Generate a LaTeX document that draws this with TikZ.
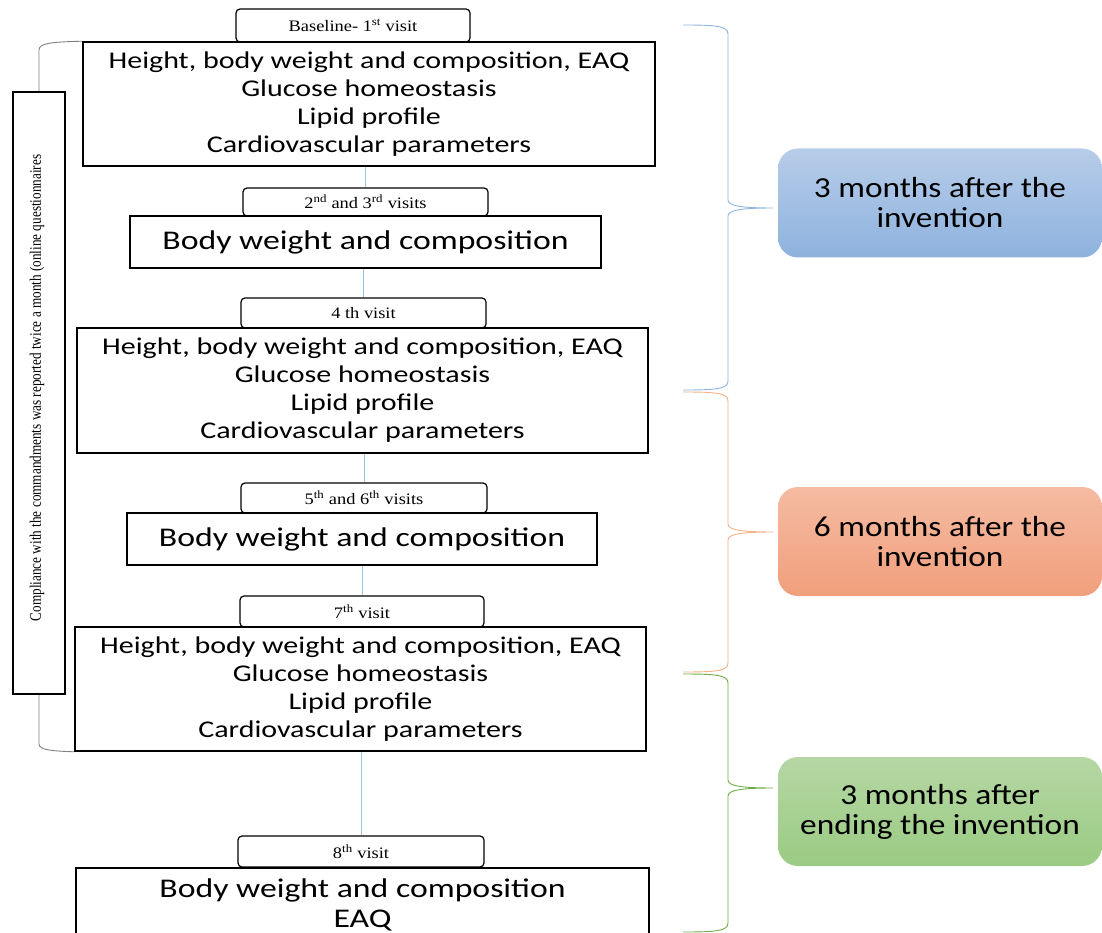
\documentclass[tikz,border=0pt]{standalone}
\usepackage{fontspec}
\setmainfont{Liberation Serif}
\newfontfamily\bodyfont{Carlito}[FakeStretch=1.25]
\newfontfamily\tagfont{Carlito}[FakeStretch=1.15]
\newfontfamily\labfont{Liberation Serif}[FakeStretch=1.15]
\newfontfamily\vfont{Liberation Serif}[FakeStretch=0.825]
\usetikzlibrary{calc}
\definecolor{linkblue}{HTML}{9DC3E6}
\definecolor{braceblue}{HTML}{8DB4E2}
\definecolor{braceorange}{HTML}{F4B183}
\definecolor{bracegreen}{HTML}{70AD47}
\definecolor{bluetop}{HTML}{B7CDE9}
\definecolor{bluebot}{HTML}{8EB2DE}
\definecolor{orangetop}{HTML}{F5BBA2}
\definecolor{orangebot}{HTML}{F19F7C}
\definecolor{greentop}{HTML}{B6D7A4}
\definecolor{greenbot}{HTML}{9ACB83}
\definecolor{bracketgray}{HTML}{808080}

% curly brace: colour, top y, tip y, bottom y
\newcommand\phasebrace[4]{%
  \draw[#1, line width=0.9pt]
    (683,#2) .. controls (716,#2) and (728,#2+1) .. (728,#2+9)
    -- (728,#3-8) .. controls (728,#3-2) and (742,#3) .. (773,#3)
    .. controls (742,#3) and (728,#3+2) .. (728,#3+8)
    -- (728,#4-9) .. controls (728,#4-1) and (716,#4) .. (683,#4);}

\begin{document}
\begin{tikzpicture}[x=1pt,y=-1pt,
  visitlabel/.style={draw=black, line width=1.2pt, rounded corners=4pt,
    fill=white, inner sep=0pt, font=\labfont\fontsize{16}{18}\selectfont},
  mainbox/.style={draw=black, line width=1.6pt, fill=white, inner sep=0pt,
    align=center, font=\bodyfont\fontsize{24}{28}\selectfont},
  bigbox/.style={mainbox, font=\bodyfont\fontsize{27}{30}\selectfont},
  phase/.style={rounded corners=20pt, inner sep=0pt, align=center,
    minimum width=324pt, minimum height=109pt,
    font=\tagfont\fontsize{29}{30}\selectfont},
  link/.style={draw=linkblue, line width=0.8pt},
  bracket/.style={draw=bracketgray, line width=0.9pt}]

\clip (0,0) rectangle (1102,933);
\fill[white] (0,0) rectangle (1102,933);

% visit boxes
\node[visitlabel, minimum width=234pt, minimum height=33pt] (l1) at (353,25.5)
  {Baseline- 1\textsuperscript{st} visit};
\node[mainbox, minimum width=572pt, minimum height=124pt] (b1) at (369,104)
  {Height, body weight and composition, EAQ\\Glucose homeostasis\\Lipid profile\\Cardiovascular parameters};

\node[visitlabel, minimum width=245pt, minimum height=28pt] (l2) at (365.5,202)
  {2\textsuperscript{nd} and 3\textsuperscript{rd} visits};
\node[bigbox, minimum width=471pt, minimum height=52pt] (b2) at (365.5,242)
  {Body weight and composition};

\node[visitlabel, minimum width=245pt, minimum height=30pt] (l3) at (363.5,313)
  {4 th visit};
\node[mainbox, minimum width=571pt, minimum height=125pt] (b3) at (362.5,390.5)
  {Height, body weight and composition, EAQ\\Glucose homeostasis\\Lipid profile\\Cardiovascular parameters};

\node[visitlabel, minimum width=246pt, minimum height=30pt] (l4) at (364,498)
  {5\textsuperscript{th} and 6\textsuperscript{th} visits};
\node[bigbox, minimum width=470pt, minimum height=52pt] (b4) at (362,539)
  {Body weight and composition};

\node[visitlabel, minimum width=244pt, minimum height=31pt] (l5) at (362,611.5)
  {7\textsuperscript{th} visit};
\node[mainbox, minimum width=571pt, minimum height=124pt] (b5) at (360.5,689)
  {Height, body weight and composition, EAQ\\Glucose homeostasis\\Lipid profile\\Cardiovascular parameters};

\node[visitlabel, minimum width=246pt, minimum height=31pt] (l6) at (361,851.5)
  {8\textsuperscript{th} visit};
\node[bigbox, minimum width=573pt, minimum height=90pt, anchor=north] (b6) at (362.5,867)
  {};
\node[font=\bodyfont\fontsize{27}{30}\selectfont, align=center, inner sep=0pt] (t6) at (362.5,905)
  {Body weight and composition\\EAQ};

% blue links between visits
\draw[link] (b1.south -| l2.north) -- (l2.north);
\draw[link] (b2.south -| l3.north) -- (l3.north);
\draw[link] (b3.south -| l4.north) -- (l4.north);
\draw[link] (b4.south -| l5.north) -- (l5.north);
\draw[link] (b5.south -| l6.north) -- (l6.north);

% compliance box on the left
\node[draw=black, line width=2pt, minimum width=52pt, minimum height=602pt, inner sep=0pt] (lb) at (39,393) {};
\node[rotate=90, font=\vfont\fontsize{16}{18}\selectfont, inner sep=0pt] at ($(lb.center)+(-2,-5)$)
  {Compliance with the commandments was reported twice a month (online questionnaires};
\coordinate (bt) at (39,50);
\coordinate (bb) at (39,744);
\draw[bracket] (b1.north west) .. controls (52,42) and (39,43) .. (bt) -- (lb.north);
\draw[bracket] (lb.south) -- (bb) .. controls (39,750) and (52,751) .. (b5.south west);

% phase boxes
\node[phase, top color=bluetop, bottom color=bluebot] (p1) at (940,203)
  {3 months after the\\invention};
\node[phase, top color=orangetop, bottom color=orangebot] (p2) at (940,541.5)
  {6 months after the\\invention};
\node[phase, top color=greentop, bottom color=greenbot] (p3) at (940,811.5)
  {3 months after\\ending the invention};

% braces grouping the visits
\phasebrace{braceblue}{25}{208}{390}
\phasebrace{braceorange}{392}{532}{672}
\phasebrace{bracegreen}{674}{788}{932}
\end{tikzpicture}
\end{document}
